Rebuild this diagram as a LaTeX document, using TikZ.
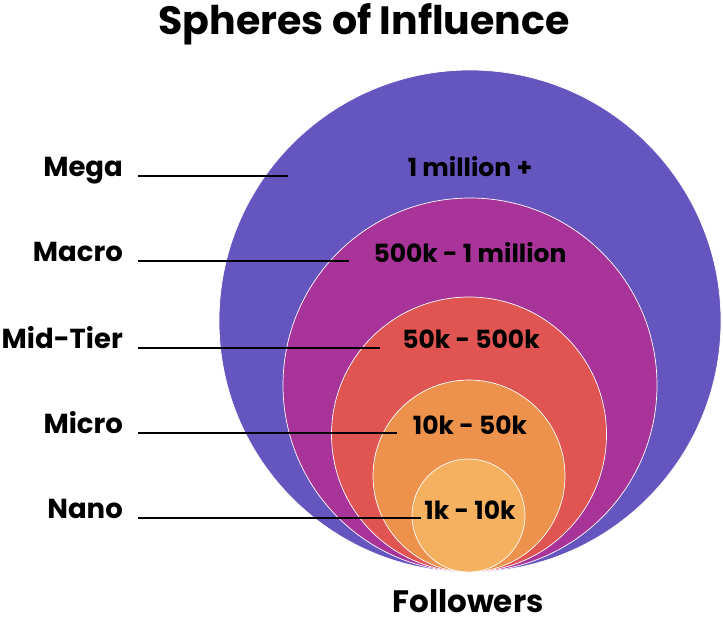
\documentclass[tikz,border=0pt]{standalone}
\usepackage{fontspec}
\setmainfont{Poppins}
\usetikzlibrary{positioning}

\definecolor{megacol}{RGB}{101,85,190}
\definecolor{macrocol}{RGB}{168,52,154}
\definecolor{midcol}{RGB}{224,84,82}
\definecolor{microcol}{RGB}{237,146,76}
\definecolor{nanocol}{RGB}{245,176,96}

\tikzset{
  sphere/.style={circle, draw=white, line width=0.7pt, inner sep=0pt},
  tier/.style={anchor=base east, font=\bfseries\fontsize{27.5}{27.5}\selectfont, inner sep=0pt},
  reach/.style={font=\bfseries\fontsize{25}{25}\selectfont, inner sep=0pt},
  leader/.style={line width=2.2pt}
}

\begin{document}
\begin{tikzpicture}[x=1pt, y=-1pt]
  \useasboundingbox (0,0) rectangle (723,622);

  \node[anchor=base, inner sep=0pt, font=\bfseries\fontsize{39.5}{39.5}\selectfont] (title) at (364,34) {Spheres of Influence};

  % nested spheres, all touching at the bottom
  \node[sphere, fill=megacol, minimum size=502pt] (mega) at (470,321) {};
  \node[sphere, fill=macrocol, minimum size=374pt] (macro) at (470,385) {};
  \node[sphere, fill=midcol, minimum size=275pt] (mid) at (469,434.5) {};
  \node[sphere, fill=microcol, minimum size=192pt] (micro) at (469,476) {};
  \node[sphere, fill=nanocol, minimum size=113pt] (nano) at (468.5,515.5) {};

  \node[reach] (megaR) at (470,167) {1 million +};
  \node[reach] (macroR) at (470,253) {500k - 1 million};
  \node[reach] (midR) at (471,339) {50k - 500k};
  \node[reach] (microR) at (470,425) {10k - 50k};
  \node[reach] (nanoR) at (470,510) {1k - 10k};

  \node[anchor=base, inner sep=0pt, font=\bfseries\fontsize{31}{31}\selectfont] (followers) at (468,612) {Followers};

  % tier names and their leaders
  \node[tier] (megaL) at (123,176) {Mega};
  \node[tier] (macroL) at (123,261) {Macro};
  \node[tier] (midL) at (123,348) {Mid-Tier};
  \node[tier] (microL) at (123,433) {Micro};
  \node[tier] (nanoL) at (123,518) {Nano};

  \coordinate (megaE) at (288,176);
  \coordinate (macroE) at (349,261);
  \coordinate (midE) at (380,348);
  \coordinate (microE) at (397,433);
  \coordinate (nanoE) at (421,518);

  \foreach \t in {mega,macro,mid,micro,nano}
    \draw[leader] ([xshift=15pt]\t L.base east) -- (\t E);
\end{tikzpicture}
\end{document}
